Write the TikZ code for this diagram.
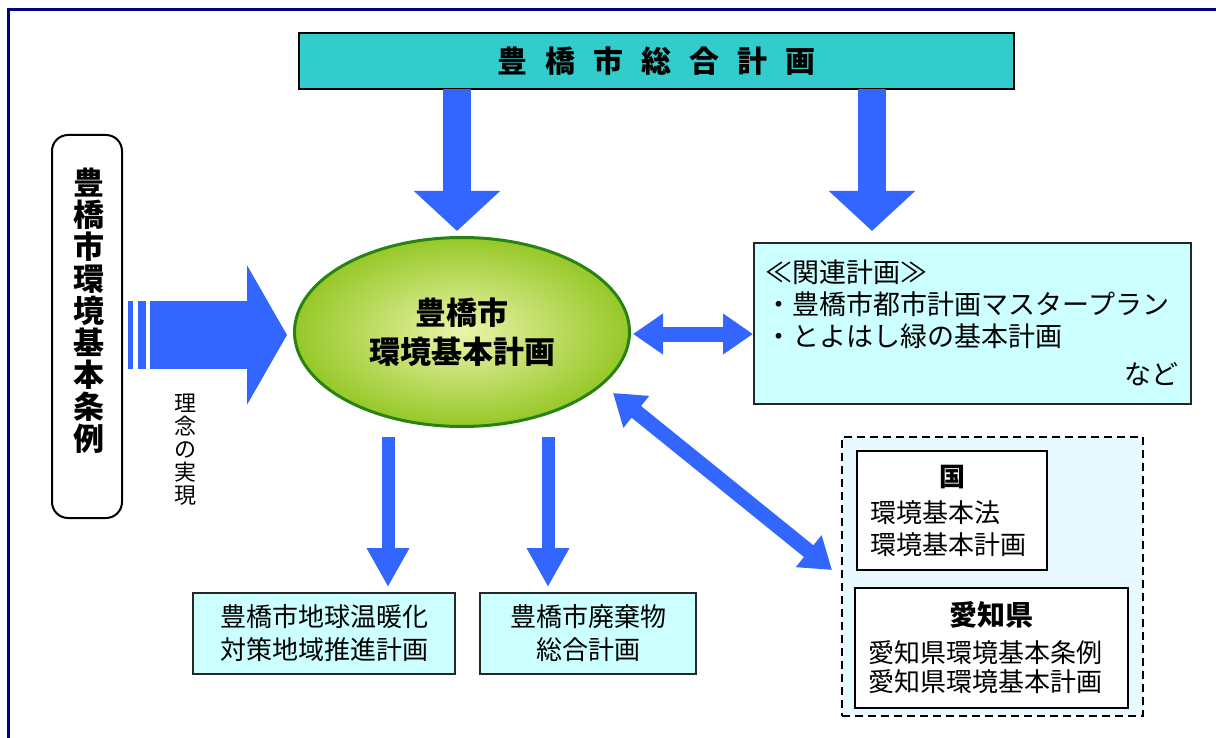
\documentclass[tikz,border=0pt]{standalone}
\usepackage{fontspec}
\setmainfont{Noto Sans CJK JP}
\usetikzlibrary{arrows.meta,shapes.geometric,positioning,calc}

\definecolor{arrowblue}{RGB}{51,102,255}
\definecolor{planteal}{RGB}{51,204,204}
\definecolor{boxcyan}{RGB}{204,255,255}
\definecolor{dashcyan}{RGB}{232,250,255}
\definecolor{framenavy}{RGB}{0,0,128}
\definecolor{ellgreen}{RGB}{40,130,20}
\definecolor{ellinner}{RGB}{236,244,170}
\definecolor{ellouter}{RGB}{150,200,40}

\begin{document}
\begin{tikzpicture}[x=0.5pt,y=-0.5pt,
    cyanbox/.style={draw=black!85,line width=0.8pt,fill=boxcyan,inner sep=0pt},
    whitebox/.style={draw=black,line width=1pt,fill=white,inner sep=0pt},
    toparrow/.style={arrowblue,line width=14pt,-{Triangle[width=42pt,length=20pt]}},
    downarrow/.style={arrowblue,line width=6.5pt,-{Triangle[width=20pt,length=19.5pt]}},
    twoway/.style={arrowblue,line width=7.5pt,
      {Triangle[width=19.5pt,length=15pt]}-{Triangle[width=19.5pt,length=15pt]}},
    bigarrow/.style={arrowblue,line width=34pt,-{Triangle[width=69pt,length=20pt]}}]
    \useasboundingbox (0,0) rectangle (1216,738);

    % Frame
    \draw[framenavy,line width=1.5pt] (8,738) -- (8,10) -- (1216,10);

    % Top plan
    \node[draw=black,line width=1pt,fill=planteal,minimum width=357.5pt,minimum height=28pt,
          font=\bfseries\fontsize{15pt}{15pt}\selectfont] (sogo) at (656.5,61)
          {豊\hspace{9pt}橋\hspace{9pt}市\hspace{9pt}総\hspace{9pt}合\hspace{9pt}計\hspace{9pt}画};

    % Ordinance
    \node[draw=black,line width=1pt,rounded corners=8pt,minimum width=35pt,minimum height=191.5pt]
          (jorei) at (87,326.5) {};
    \node[align=center,font=\bfseries\fontsize{15.5pt}{16pt}\selectfont] (joreitext) at (89,311)
          {豊\\橋\\市\\環\\境\\基\\本\\条\\例};
    \node[align=center,font=\fontsize{11pt}{11.5pt}\selectfont] (rinen) at (185,450)
          {理\\念\\の\\実\\現};

    % Environment plan
    \node[ellipse,draw=ellgreen,line width=1.5pt,inner color=ellinner,outer color=ellouter,
          minimum width=167.5pt,minimum height=94.5pt,align=center,
          font=\bfseries\fontsize{15.5pt}{19.5pt}\selectfont] (kankyo) at (462,332)
          {豊橋市\\環境基本計画};

    % Related plans
    \node[cyanbox,anchor=north west,minimum width=218.5pt,minimum height=80.5pt,
          text width=206.5pt,inner xsep=6pt,align=left,
          font=\fontsize{13.5pt}{16pt}\selectfont] (kanren) at (753,242)
          {≪関連計画≫\\・豊橋市都市計画マスタープラン\\・とよはし緑の基本計画\\[3pt]\hfill など};

    % National / prefecture
    \node[draw=black,dashed,dash pattern=on 4pt off 2.5pt,line width=0.8pt,fill=dashcyan,
          minimum width=150.5pt,minimum height=139.5pt] (upper) at (992.5,576.5) {};
    \node[whitebox,minimum width=95pt,minimum height=59.5pt,text width=82pt,align=left,
          font=\fontsize{13pt}{16pt}\selectfont] (kuni) at (952,510.5)
          {\makebox[82pt]{\bfseries 国}\\[2pt]環境基本法\\環境基本計画};
    \node[whitebox,minimum width=136.5pt,minimum height=60pt,text width=123.5pt,align=left,
          font=\fontsize{13pt}{14.5pt}\selectfont] (aichi) at (991.5,648)
          {\makebox[123.5pt]{\bfseries\fontsize{14pt}{14pt}\selectfont 愛知県}\\[4pt]愛知県環境基本条例\\愛知県環境基本計画};

    % Lower plans
    \node[cyanbox,minimum width=131pt,minimum height=40.5pt,align=center,
          font=\fontsize{13pt}{16.5pt}\selectfont] (ondanka) at (324,633.5)
          {豊橋市地球温暖化\\対策地域推進計画};
    \node[cyanbox,minimum width=108pt,minimum height=40.5pt,align=center,
          font=\fontsize{13pt}{16.5pt}\selectfont] (haikibutsu) at (588,633.5)
          {豊橋市廃棄物\\総合計画};

    % Arrows
    \coordinate (a1) at (457,89);  \coordinate (b1) at (457,231);
    \coordinate (a2) at (872,89);  \coordinate (b2) at (872,231);
    \draw[toparrow] (a1) -- (b1);
    \draw[toparrow] (a2) -- (b2);

    \coordinate (a3) at (388,437); \coordinate (b3) at (388,587);
    \coordinate (a4) at (548,437); \coordinate (b4) at (548,587);
    \draw[downarrow] (a3) -- (b3);
    \draw[downarrow] (a4) -- (b4);

    \coordinate (big1) at (150,335); \coordinate (big2) at (287,335);
    \fill[arrowblue] (128,301) rectangle (133,369);
    \fill[arrowblue] (138,301) rectangle (146,369);
    \draw[bigarrow] (big1) -- (big2);

    \coordinate (h1) at (633,334); \coordinate (h2) at (753,334);
    \draw[twoway] (h1) -- (h2);
    \coordinate (d1) at (613,393); \coordinate (d2) at (832,570);
    \draw[twoway] (d1) -- (d2);
\end{tikzpicture}
\end{document}
